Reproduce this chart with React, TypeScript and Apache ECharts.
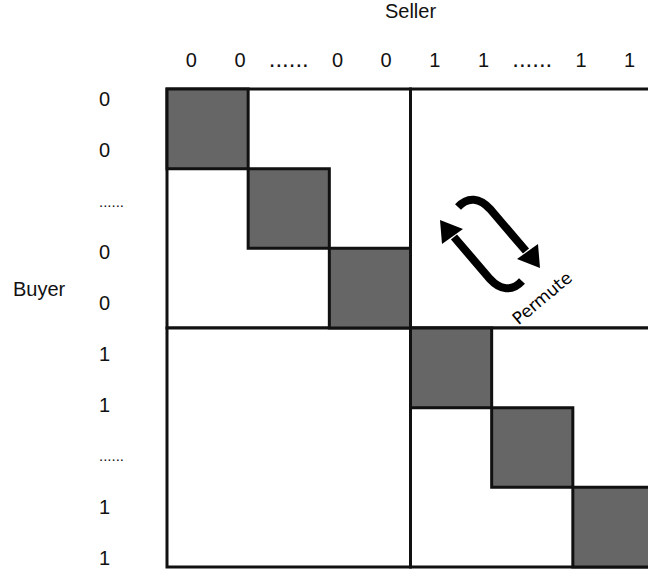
import React, { useEffect, useRef } from "react";
import * as echarts from "echarts";

// Tick labels
const sellerLabels = ["0", "0", "......", "0", "0", "1", "1", "......", "1", "1"];
const buyerLabels = ["0", "0", "......", "0", "0", "1", "1", "......", "1", "1"];

// Matrix structure in block units: [col, row, size]
const quadrants = [
  [0, 0, 3],
  [3, 0, 3],
  [0, 3, 3],
  [3, 3, 3],
];
// Diagonal dark blocks: [col, row]
const diagonalBlocks = [
  [0, 0],
  [1, 1],
  [2, 2],
  [3, 3],
  [4, 4],
  [5, 5],
];
const blockCount = 6;

const sellerName = "Seller";
const buyerName = "Buyer";
const permuteText = "Permute";

echarts.graphic.registerShape(
  "permuteArrowA",
  echarts.graphic.extendPath("M -32 -37 C -22 -48 -10 -46 0 -35 L 36 7", {})
);
echarts.graphic.registerShape(
  "permuteArrowB",
  echarts.graphic.extendPath("M 32 37 C 22 48 10 46 0 35 L -36 -7", {})
);

const FONT = "'Liberation Sans', Arial, Helvetica, sans-serif";
const INK = "#111111";

export default function App() {
  const ref = useRef<HTMLDivElement>(null);

  useEffect(() => {
    if (!ref.current) return;
    const chart = echarts.init(ref.current, undefined, { renderer: "svg" });

    const rectFrom = (api: any, x0: number, y0: number, s: number) => {
      const p0 = api.coord([x0, y0]);
      const p1 = api.coord([x0 + s, y0 + s]);
      return {
        x: Math.min(p0[0], p1[0]),
        y: Math.min(p0[1], p1[1]),
        width: Math.abs(p1[0] - p0[0]),
        height: Math.abs(p1[1] - p0[1]),
      };
    };

    const option: any = {
      animation: false,
      backgroundColor: "#ffffff",
      title: [
        {
          text: buyerName,
          left: 13,
          top: 279,
          padding: 0,
          textStyle: {
            fontFamily: FONT,
            fontSize: 20,
            fontWeight: "normal",
            color: INK,
          },
        },
      ],
      grid: [
        {
          left: 167,
          top: 89,
          width: 487,
          height: 478,
          containLabel: false,
          outerBoundsMode: "none",
        },
        {
          left: 167,
          top: 74,
          width: 487,
          height: 509,
          containLabel: false,
          outerBoundsMode: "none",
        },
      ],
      xAxis: [
        { type: "value", gridIndex: 0, min: 0, max: blockCount, show: false },
        {
          type: "category",
          gridIndex: 0,
          position: "top",
          data: sellerLabels.map((v) =>
            v.startsWith(".") ? { value: v, textStyle: { fontSize: 24 } } : v
          ),
          axisLine: { show: false },
          axisTick: { show: false },
          splitLine: { show: false },
          axisLabel: {
            interval: 0,
            margin: 19,
            fontSize: 20,
            fontFamily: FONT,
            color: INK,
          },
          name: sellerName,
          nameLocation: "middle",
          nameGap: 68,
          nameTextStyle: { fontSize: 20, fontFamily: FONT, color: INK },
        },
        { type: "category", gridIndex: 1, show: false, data: sellerLabels },
      ],
      yAxis: [
        {
          type: "value",
          gridIndex: 0,
          min: 0,
          max: blockCount,
          inverse: true,
          show: false,
        },
        {
          type: "category",
          gridIndex: 1,
          inverse: true,
          data: buyerLabels.map((v) =>
            v.startsWith(".")
              ? { value: v, textStyle: { fontSize: 15, align: "left" } }
              : v
          ),
          axisLine: { show: false },
          axisTick: { show: false },
          splitLine: { show: false },
          axisLabel: {
            interval: 0,
            margin: 68,
            align: "left",
            fontSize: 20,
            fontFamily: FONT,
            color: INK,
          },
        },
      ],
      series: [
        {
          type: "custom",
          xAxisIndex: 0,
          yAxisIndex: 0,
          data: quadrants,
          encode: { x: 0, y: 1 },
          renderItem: (params: any, api: any) => ({
            type: "rect",
            shape: rectFrom(api, api.value(0), api.value(1), api.value(2)),
            style: { fill: "#ffffff", stroke: INK, lineWidth: 3 },
          }),
        },
        {
          type: "custom",
          xAxisIndex: 0,
          yAxisIndex: 0,
          data: diagonalBlocks,
          encode: { x: 0, y: 1 },
          renderItem: (params: any, api: any) => ({
            type: "rect",
            shape: rectFrom(api, api.value(0), api.value(1), 1),
            style: { fill: "#666666", stroke: INK, lineWidth: 3 },
          }),
        },
      ],
      graphic: [
        {
          type: "permuteArrowA",
          x: 490,
          y: 244,
          style: { fill: "none", stroke: "#000", lineWidth: 8, lineCap: "butt" },
          z: 10,
        },
        {
          type: "polygon",
          x: 490,
          y: 244,
          shape: { points: [[50, 24], [27, 15], [48, 0]] },
          style: { fill: "#000" },
          z: 10,
        },
        {
          type: "permuteArrowB",
          x: 490,
          y: 244,
          style: { fill: "none", stroke: "#000", lineWidth: 8, lineCap: "butt" },
          z: 10,
        },
        {
          type: "polygon",
          x: 490,
          y: 244,
          shape: { points: [[-50, -24], [-27, -15], [-48, 0]] },
          style: { fill: "#000" },
          z: 10,
        },
        {
          type: "text",
          x: 542,
          y: 298,
          rotation: (40 * Math.PI) / 180,
          style: {
            text: permuteText,
            fontFamily: "'DejaVu Sans', Verdana, sans-serif",
            fontSize: 17,
            fill: "#000",
            align: "center",
            verticalAlign: "middle",
          },
          z: 10,
        },
      ],
    };

    chart.setOption(option);
    return () => chart.dispose();
  }, []);

  return (
    <div
      ref={ref}
      style={{ position: "fixed", left: 0, top: 0, width: 648, height: 575 }}
    />
  );
}
